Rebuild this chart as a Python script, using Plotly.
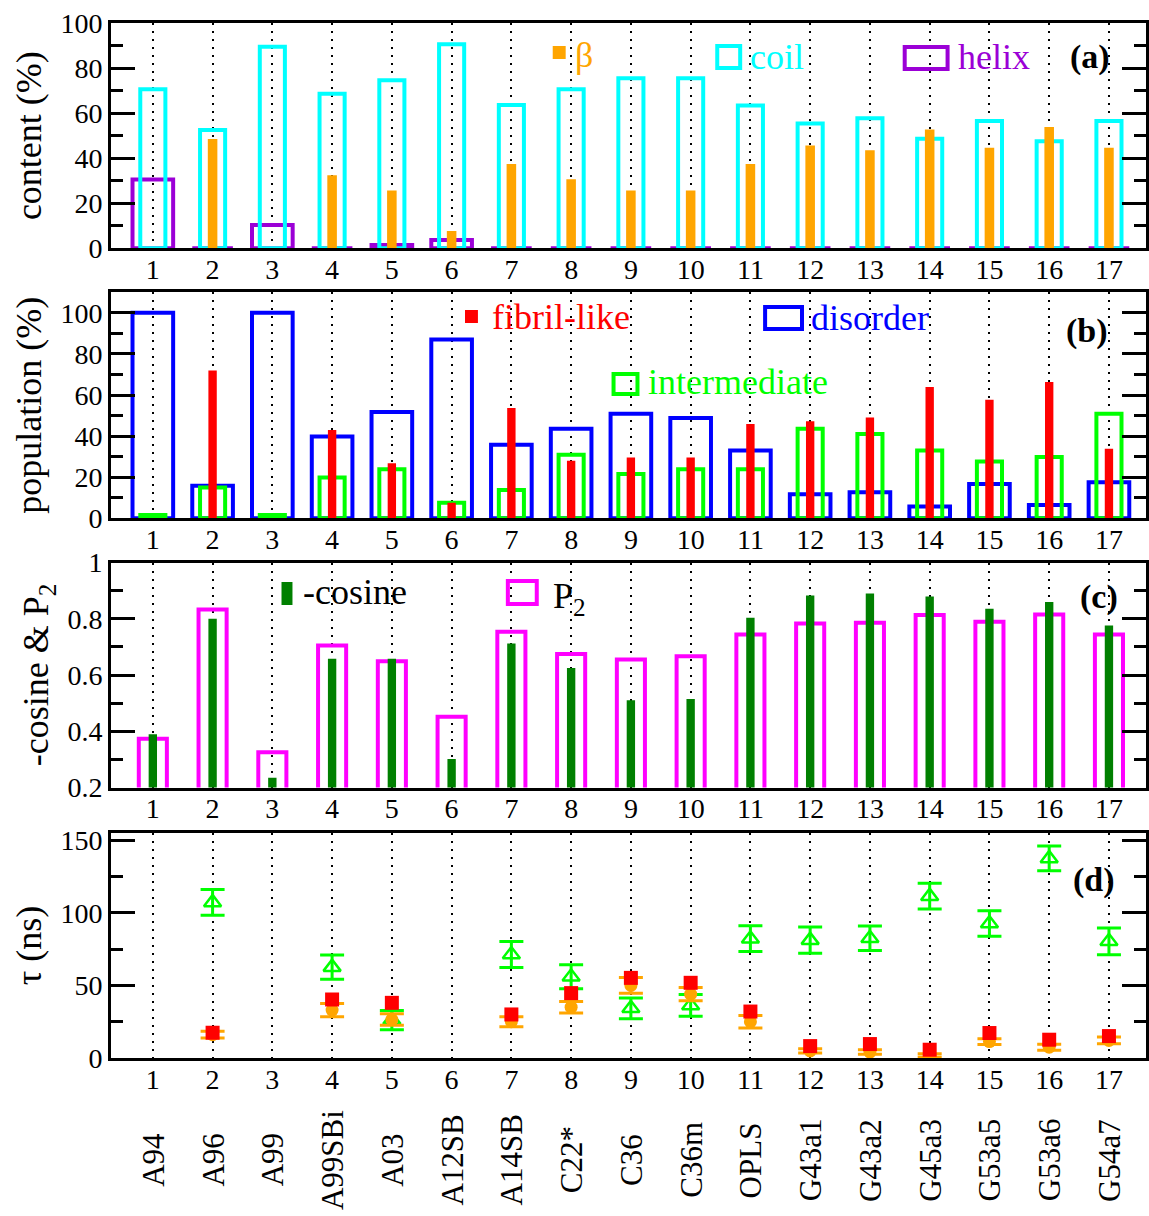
import plotly.graph_objects as go

# ---------------- data ----------------
idx = list(range(1, 18))
names = ["A94", "A96", "A99", "A99SBi", "A03", "A12SB", "A14SB", "C22*", "C36",
         "C36m", "OPLS", "G43a1", "G43a2", "G45a3", "G53a5", "G53a6", "G54a7"]

# (a) secondary structure content (%)
beta = [0, 48.5, 0, 32.4, 25.6, 7.7, 37.4, 30.6, 25.7, 25.7, 37.4, 45.6, 43.5, 52.7, 44.6, 53.8, 44.6]
coil = [70.6, 52.5, 89.5, 68.6, 74.6, 90.6, 63.6, 70.6, 75.5, 75.5, 63.4, 55.4, 57.7, 48.6, 56.5, 47.5, 56.5]
helix = [30.5, 0, 10.3, 0, 1.5, 3.7, 0, 0, 0, 0, 0, 0, 0, 0, 0, 0, 0]

# (b) population (%)
fibril = [0, 71.9, 0, 43.0, 26.8, 7.6, 53.7, 28.0, 29.6, 29.6, 45.9, 47.2, 49.1, 63.9, 57.7, 66.3, 33.8]
disorder = [100, 15.8, 100, 39.8, 51.7, 87.0, 35.8, 43.6, 50.9, 48.8, 33.0, 11.7, 12.7, 5.7, 16.7, 6.5, 17.6]
intermediate = [1.6, 15.0, 1.6, 19.8, 23.9, 7.6, 13.8, 30.9, 21.6, 23.9, 23.9, 43.6, 41.0, 33.0, 27.6, 29.8, 50.9]

# (c) -cosine and P2
cosine = [0.389, 0.800, 0.235, 0.658, 0.658, 0.301, 0.712, 0.625, 0.510, 0.515, 0.804, 0.883, 0.890, 0.879, 0.836, 0.860, 0.776]
p2 = [0.373, 0.833, 0.325, 0.705, 0.649, 0.452, 0.754, 0.675, 0.655, 0.667, 0.744, 0.783, 0.786, 0.813, 0.789, 0.815, 0.744]

# (d) tau (ns)
tau_green = [None, 107.2, None, 62.6, 26.1, None, 71.3, 56.0, 34.2, 36.2, 82.2, 81.2, 82.5, 111.5, 92.6, 137.5, 80.4]
tau_green_err = [None, 8.8, None, 8.3, 6.6, None, 9.0, 8.3, 7.2, 7.5, 8.9, 9.0, 8.5, 8.9, 8.8, 8.5, 9.2]
tau_orange = [None, 16.1, None, 33.0, 26.5, None, 25.0, 35.0, 50.0, 44.0, 25.0, 4.9, 4.1, 1.8, 11.3, 7.4, 12.1]
tau_orange_err = [None, 2.4, None, 4.5, 4.0, None, 3.5, 4.0, 5.4, 4.5, 4.3, 1.5, 1.6, 1.2, 2.0, 2.0, 2.3]
tau_red = [None, 17.4, None, 40.3, 38.0, None, 30.0, 44.7, 55.2, 51.8, 32.0, 8.2, 9.6, 5.7, 17.2, 12.6, 15.1]

# ---------------- style ----------------
FONT = "Liberation Serif"
TICKF = 28
TITLEF = 36
LEGF = 36
W, H = 1149, 1216
ML, MR, MT, MB = 111, 0, 23, 158
PW, PH = W - ML - MR, H - MT - MB

def px(x):
    return (x - ML) / PW

def py(y):
    return (H - MB - y) / PH

domains = [
    [py(248.3), 1.0],
    [py(518.3), py(292.3)],
    [py(787.5), py(562.5)],
    [0.0, py(833.0)],
]

CYAN = "#00FFFF"
ORANGE = "#FFA500"
PURPLE = "#9B00D6"
BLUE = "#0000FF"
LGREEN = "#00FF00"
RED = "#FF0000"
DGREEN = "#008000"
MAGENTA = "#FF00FF"

fig = go.Figure()

def open_bar(y, color, width, ax, ay, lw=4):
    return go.Bar(x=idx, y=y, width=width, xaxis=ax, yaxis=ay,
                  marker=dict(color="rgba(0,0,0,0)", line=dict(color=color, width=lw)),
                  showlegend=False, hoverinfo="skip")

def fill_bar(y, color, width, ax, ay):
    return go.Bar(x=idx, y=y, width=width, xaxis=ax, yaxis=ay,
                  marker=dict(color=color, line=dict(width=0)),
                  showlegend=False, hoverinfo="skip")

# (a)
fig.add_trace(open_bar(helix, PURPLE, 0.68, "x", "y"))
fig.add_trace(open_bar(coil, CYAN, 0.42, "x", "y"))
fig.add_trace(fill_bar(beta, ORANGE, 0.16, "x", "y"))
# (b)
fig.add_trace(open_bar(disorder, BLUE, 0.68, "x2", "y2"))
fig.add_trace(open_bar(intermediate, LGREEN, 0.42, "x2", "y2"))
fig.add_trace(fill_bar(fibril, RED, 0.14, "x2", "y2"))
# (c)
fig.add_trace(open_bar(p2, MAGENTA, 0.47, "x3", "y3"))
fig.add_trace(fill_bar(cosine, DGREEN, 0.14, "x3", "y3"))
# (d)
fig.add_trace(go.Scatter(x=idx, y=tau_green, mode="markers", xaxis="x4", yaxis="y4",
                         marker=dict(symbol="triangle-up-open", size=15, color=LGREEN,
                                     line=dict(width=2.5, color=LGREEN)),
                         error_y=dict(type="data", array=tau_green_err, visible=True,
                                      color=LGREEN, thickness=3, width=12),
                         showlegend=False, hoverinfo="skip"))
fig.add_trace(go.Scatter(x=idx, y=tau_orange, mode="markers", xaxis="x4", yaxis="y4",
                         marker=dict(symbol="circle", size=13, color=ORANGE),
                         error_y=dict(type="data", array=tau_orange_err, visible=True,
                                      color=ORANGE, thickness=3, width=12),
                         showlegend=False, hoverinfo="skip"))
fig.add_trace(go.Scatter(x=idx, y=tau_red, mode="markers", xaxis="x4", yaxis="y4",
                         marker=dict(symbol="square", size=14, color=RED),
                         showlegend=False, hoverinfo="skip"))

xcommon = dict(range=[0.3, 17.62], tickvals=idx, ticktext=[str(i) for i in idx],
               ticks="", showgrid=True, gridcolor="black", gridwidth=2, griddash="2px,6px",
               showline=True, linecolor="black", linewidth=3, mirror=True, zeroline=False,
               ticklabelstandoff=-6,
               tickfont=dict(family=FONT, size=TICKF, color="black"), domain=[0, 1])

ycfg = [
    dict(range=[0, 100], dtick=20, minor=dict(dtick=10), title="content (%)"),
    dict(range=[0, 110], dtick=20, tick0=0, minor=dict(dtick=10), title="population (%)"),
    dict(range=[0.2, 1.0], dtick=0.2, tick0=0.2, minor=dict(dtick=0.1), title="-cosine & P<sub>2</sub>"),
    dict(range=[0, 155], dtick=50, tick0=0, minor=dict(dtick=25), title="τ (ns)"),
]

layout = dict(width=W, height=H, margin=dict(l=ML, r=MR, t=MT, b=MB),
              paper_bgcolor="white", plot_bgcolor="white", barmode="overlay",
              font=dict(family=FONT, color="black"), showlegend=False)

for i in range(4):
    sfx = "" if i == 0 else str(i + 1)
    xa = dict(xcommon)
    xa["anchor"] = "y" + sfx
    layout["xaxis" + sfx] = xa
    yc = ycfg[i]
    layout["yaxis" + sfx] = dict(
        range=yc["range"], dtick=yc["dtick"], tick0=yc.get("tick0", 0),
        domain=domains[i], anchor="x" + sfx,
        ticks="inside", ticklen=24, tickwidth=2.5, tickcolor="black",
        minor=dict(dtick=yc["minor"]["dtick"], ticks="inside", ticklen=12,
                   tickwidth=2.5, tickcolor="black", showgrid=False),
        showline=True, linecolor="black", linewidth=3, mirror="ticks",
        showgrid=False, zeroline=False,
        tickfont=dict(family=FONT, size=TICKF, color="black"),
        title=dict(text=yc["title"], font=dict(family=FONT, size=TITLEF, color="black"),
                   standoff=8),
    )

fig.update_layout(**layout)

# ---------- legends / panel labels (layout decorations, pixel placed) ----------
shapes = []
annots = []

def swatch(x0, y0, x1, y1, color, filled, lw=4):
    d = dict(type="rect", xref="paper", yref="paper",
             x0=px(x0), x1=px(x1), y0=py(y1), y1=py(y0), layer="above")
    if filled:
        d.update(fillcolor=color, line=dict(width=0))
    else:
        d.update(fillcolor="rgba(0,0,0,0)", line=dict(color=color, width=lw))
    shapes.append(d)

def label(x, y, text, color, size=LEGF, anchor="left", bold=False):
    t = "<b>%s</b>" % text if bold else text
    annots.append(dict(xref="paper", yref="paper", x=px(x), y=py(y), text=t,
                       showarrow=False, xanchor=anchor, yanchor="middle",
                       font=dict(family=FONT, size=size, color=color)))

# (a)
swatch(554, 46, 567, 59, ORANGE, True)
label(574, 55, "β", ORANGE)
swatch(719, 46, 742, 68, CYAN, False)
label(750, 57, "coil", CYAN)
swatch(907, 47, 950, 69, PURPLE, False)
label(958, 57, "helix", PURPLE)
label(1093, 57, "(a)", "black", size=34, anchor="center", bold=True)
# (b)
swatch(466, 310, 479, 323, RED, True)
label(491, 317, "fibril-like", RED)
swatch(767, 307, 804, 329, BLUE, False)
label(811, 318, "disorder", BLUE)
swatch(615, 374, 639, 394, LGREEN, False)
label(648, 382, "intermediate", LGREEN)
label(1090, 331, "(b)", "black", size=34, anchor="center", bold=True)
# (c)
swatch(282, 582, 293, 605, DGREEN, True)
label(302, 592, "-cosine", "black")
swatch(509, 581, 538, 604, MAGENTA, False)
label(552, 598, "P<sub>2</sub>", "black")
label(1102, 597, "(c)", "black", size=34, anchor="center", bold=True)
# (d)
label(1097, 880, "(d)", "black", size=34, anchor="center", bold=True)

# category names under the bottom panel
for i, n in zip(idx, names):
    annots.append(dict(xref="x4", yref="paper", x=i, y=py(1160), text=n,
                       textangle=-90, showarrow=False, xanchor="center", yanchor="middle",
                       font=dict(family=FONT, size=31, color="black")))

fig.update_layout(shapes=shapes, annotations=annots)

fig.write_html("out.html")
